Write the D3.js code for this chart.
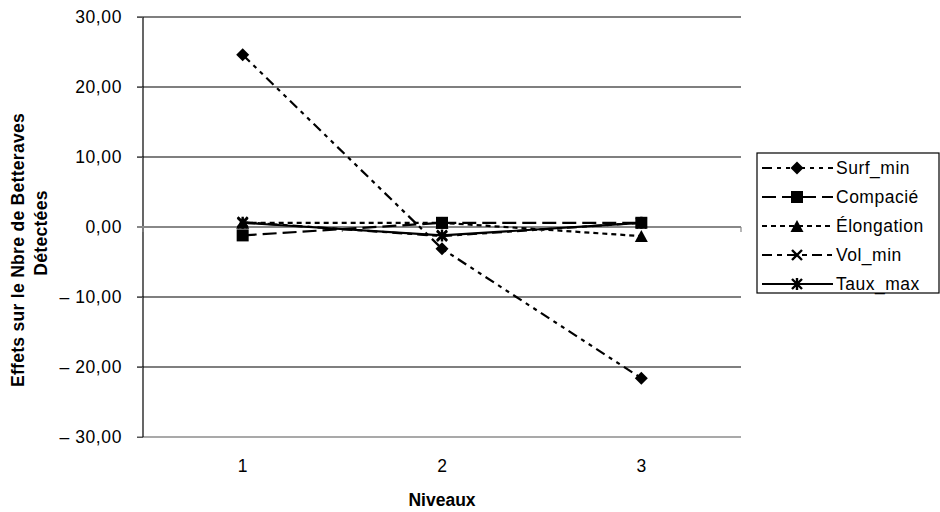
<!DOCTYPE html>
<html><head><meta charset="utf-8">
<script src="https://cdn.jsdelivr.net/npm/d3@7"></script>
<style>
html,body{margin:0;padding:0;background:#fff;}
text{font-family:"Liberation Sans",Arial,sans-serif;fill:#000;}
</style></head>
<body><svg id="c" width="940" height="512"></svg>
<script>
const categories = ["1","2","3"];
const yTicks = [30,20,10,0,-10,-20,-30];
const seriesNames = ["Surf_min","Compacié","Élongation","Vol_min","Taux_max"];
const surfMin   = [24.6,-3.1,-21.6];
const compacie  = [-1.2,0.6,0.6];
const elongation= [0.6,0.6,-1.3];
const volMin    = [0.7,-1.3,0.6];
const tauxMax   = [0.6,-1.2,0.6];
const seriesValues = [surfMin,compacie,elongation,volMin,tauxMax];

const styles = [
  {dash:"10,5,4,5,4,5", marker:"diamond"},
  {dash:"14,6", marker:"square"},
  {dash:"5,4", marker:"triangle"},
  {dash:"10,5,5,5", marker:"x"},
  {dash:null, marker:"star"}
];

const svg = d3.select("#c");
const L=143, R=741, T=17, B=437;
const x = d3.scalePoint().domain(categories).range([L,R]).padding(0.5);
const y = d3.scaleLinear().domain([-30,30]).range([B,T]);
const fmt = v => (v<0 ? "\u2013 " : "") + Math.abs(v).toFixed(2).replace(".",",");

// gridlines
svg.append("g").selectAll("line").data(yTicks.filter(v=>v!==0)).join("line")
  .attr("x1",L-6).attr("x2",R).attr("y1",d=>y(d)).attr("y2",d=>y(d))
  .attr("stroke",d=>d===-30?"#555":"#000").attr("stroke-width",1.2);

// y axis via d3
const yAxis = d3.axisLeft(y).tickValues(yTicks).tickSize(6).tickPadding(15).tickFormat(fmt);
const ga = svg.append("g").attr("transform",`translate(${L},0)`).call(yAxis);
ga.select(".domain").attr("stroke","#000").attr("stroke-width",1.2).attr("d",`M0,${T}V${B}`);
ga.selectAll(".tick line").attr("stroke","#555");
ga.selectAll(".tick text").style("font-size","17.5px").style("letter-spacing","0.6px")
  .style("font-family","'Liberation Sans',Arial,sans-serif").attr("fill","#000");

// x axis at zero
const bw = (R-L)/categories.length;
const xa = svg.append("g");
xa.append("line").attr("x1",L-6).attr("x2",R).attr("y1",y(0)).attr("y2",y(0))
  .attr("stroke","#888").attr("stroke-width",2);
xa.selectAll("line.t").data(d3.range(categories.length+1)).join("line").attr("class","t")
  .attr("x1",i=>L+i*bw).attr("x2",i=>L+i*bw).attr("y1",y(0)).attr("y2",y(0)+5)
  .attr("stroke","#888").attr("stroke-width",1.2);
svg.append("g").selectAll("text").data(categories).join("text")
  .attr("x",d=>x(d)).attr("y",472).attr("text-anchor","middle")
  .style("font-size","17.5px").text(d=>d);

// axis titles
svg.append("text").attr("x",x("2")).attr("y",506).attr("text-anchor","middle")
  .style("font-size","17.5px").style("font-weight","bold").text("Niveaux");
svg.append("text").attr("transform","translate(24,250) rotate(-90)").attr("text-anchor","middle")
  .style("font-size","17.5px").style("font-weight","bold").style("letter-spacing","0.3px")
  .text("Effets sur le Nbre de Betteraves");
svg.append("text").attr("transform","translate(47,233) rotate(-90)").attr("text-anchor","middle")
  .style("font-size","17.5px").style("font-weight","bold").style("letter-spacing","0.3px")
  .text("Détectées");

function drawMarker(g, type, cx, cy){
  if(type==="diamond"){
    g.append("path").attr("d",`M${cx},${cy-6.5}L${cx+6.5},${cy}L${cx},${cy+6.5}L${cx-6.5},${cy}Z`).attr("fill","#000");
  } else if(type==="square"){
    g.append("rect").attr("x",cx-6).attr("y",cy-6).attr("width",12).attr("height",12).attr("fill","#000");
  } else if(type==="triangle"){
    g.append("path").attr("d",`M${cx},${cy-6}L${cx+6.5},${cy+6}L${cx-6.5},${cy+6}Z`).attr("fill","#000");
  } else if(type==="x"){
    g.append("path").attr("d",`M${cx-5},${cy-5}L${cx+5},${cy+5}M${cx+5},${cy-5}L${cx-5},${cy+5}`)
      .attr("stroke","#000").attr("stroke-width",2.4);
  } else if(type==="star"){
    g.append("path").attr("d",`M${cx-5},${cy-5}L${cx+5},${cy+5}M${cx+5},${cy-5}L${cx-5},${cy+5}M${cx},${cy-6}V${cy+6}`)
      .attr("stroke","#000").attr("stroke-width",2.4);
  }
}

const line = d3.line().x((d,i)=>x(categories[i])).y(d=>y(d));
const gs = svg.append("g");
seriesValues.forEach((vals,k)=>{
  gs.append("path").attr("d",line(vals)).attr("fill","none").attr("stroke","#000")
    .attr("stroke-width",2.2).attr("stroke-dasharray",styles[k].dash);
});
seriesValues.forEach((vals,k)=>{
  vals.forEach((v,i)=>drawMarker(gs,styles[k].marker,x(categories[i]),y(v)));
});

// legend
const lg = svg.append("g");
lg.append("rect").attr("x",757).attr("y",153).attr("width",182).attr("height",140)
  .attr("fill","#fff").attr("stroke","#000").attr("stroke-width",1.2);
seriesNames.forEach((n,k)=>{
  const yy = 168 + k*29;
  lg.append("line").attr("x1",762).attr("x2",833).attr("y1",yy).attr("y2",yy)
    .attr("stroke","#000").attr("stroke-width",2).attr("stroke-dasharray",styles[k].dash);
  drawMarker(lg,styles[k].marker,797,yy);
  lg.append("text").attr("x",836).attr("y",yy+6).style("font-size","17.5px")
    .style("letter-spacing","0.5px").text(n);
});
</script></body></html>
